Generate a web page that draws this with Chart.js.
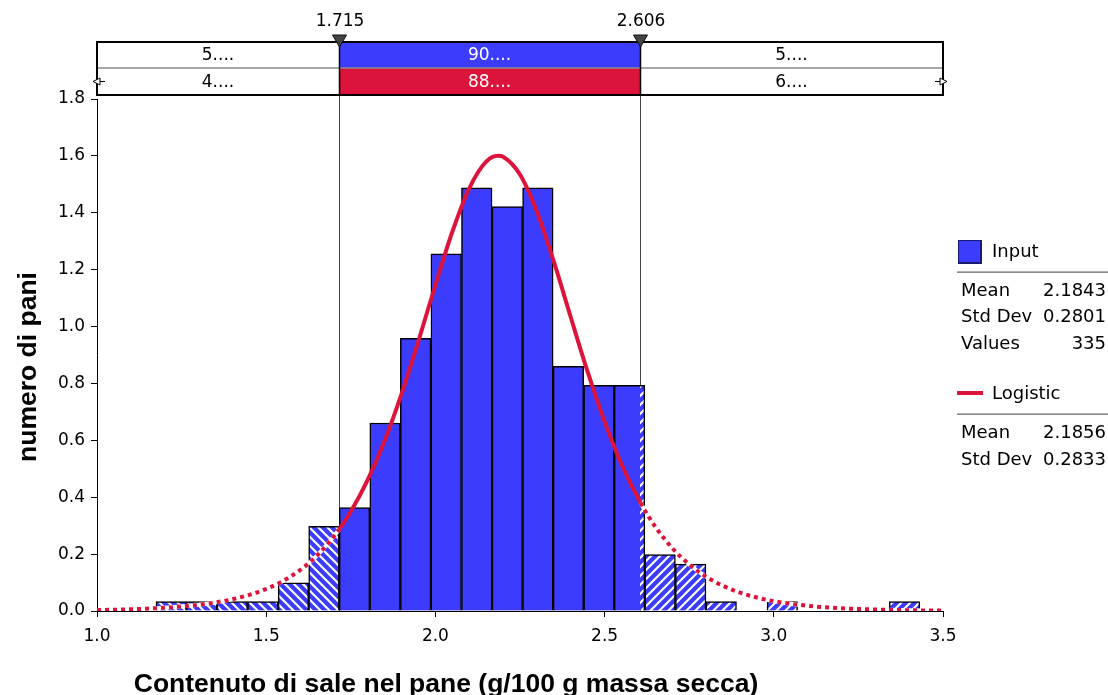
<!DOCTYPE html>
<html>
<head>
<meta charset="utf-8">
<script src="https://cdn.jsdelivr.net/npm/chart.js@4.4.1/dist/chart.umd.min.js"></script>
<style>
html,body{margin:0;padding:0;background:#fff;}
#wrap{position:relative;width:1108px;height:695px;overflow:hidden;}
#c{position:absolute;left:0;top:0;}
.t{position:absolute;font-family:'DejaVu Sans',Verdana,sans-serif;font-size:18px;line-height:22px;color:#000;white-space:nowrap;}
.sep{position:absolute;left:957px;width:151px;height:1px;background:#8a8a8a;border-top:1px solid #b0b0b0;}
</style>
</head>
<body>
<div id="wrap">
<canvas id="c" width="1108" height="695"></canvas>
<div style="position:absolute;left:958px;top:240px;width:21px;height:21px;background:#3C3CFF;border:1px solid #1a1a70;border-right-width:2px;border-bottom-width:2px;"></div>
<div class="t" style="left:992px;top:240px;">Input</div>
<div class="sep" style="top:271px;"></div>
<div class="t" style="left:961px;top:279px;">Mean</div>
<div class="t" style="right:2px;top:279px;">2.1843</div>
<div class="t" style="left:961px;top:305px;">Std Dev</div>
<div class="t" style="right:2px;top:305px;">0.2801</div>
<div class="t" style="left:961px;top:332px;">Values</div>
<div class="t" style="right:2px;top:332px;">335</div>
<div style="position:absolute;left:957px;top:391px;width:26px;height:4px;background:#DC143C;"></div>
<div class="t" style="left:992px;top:382px;">Logistic</div>
<div class="sep" style="top:413px;"></div>
<div class="t" style="left:961px;top:421px;">Mean</div>
<div class="t" style="right:2px;top:421px;">2.1856</div>
<div class="t" style="left:961px;top:448px;">Std Dev</div>
<div class="t" style="right:2px;top:448px;">0.2833</div>
</div>
<script>
// ---- data ----
const binCenters = [1.2192,1.3095,1.3998,1.4901,1.5804,1.6707,1.7610,1.8513,1.9416,2.0319,2.1222,2.2125,2.3028,2.3931,2.4834,2.5737,2.6640,2.7543,2.8446,2.9349,3.0252,3.1155,3.2058,3.2961,3.3864];
const binHeights = [0.033,0.033,0.033,0.033,0.099,0.298,0.364,0.661,0.959,1.256,1.488,1.422,1.488,0.860,0.793,0.793,0.198,0.165,0.033,0,0.033,0,0,0,0.033];
const curveX = [1.0,1.1,1.2,1.3,1.35,1.4,1.45,1.5,1.55,1.6,1.65,1.715,1.75,1.8,1.85,1.9,1.95,2.0,2.05,2.1,2.15,2.1856,2.2,2.25,2.3,2.35,2.4,2.45,2.5,2.55,2.606,2.65,2.7,2.75,2.8,2.85,2.9,2.95,3.0,3.1,3.2,3.3,3.4,3.5];
const curveY = [0.0032,0.0061,0.0116,0.0219,0.0301,0.0413,0.0567,0.0775,0.1057,0.1438,0.1946,0.2858,0.3495,0.4609,0.5988,0.7635,0.9498,1.1461,1.3332,1.4862,1.5800,1.6006,1.5972,1.5345,1.4038,1.2279,1.0328,0.8403,0.6656,0.5161,0.3807,0.2962,0.2210,0.1636,0.1205,0.0885,0.0647,0.0473,0.0345,0.0183,0.0096,0.0051,0.0027,0.0014];
const markerValues = [1.715, 2.606];
const inputPct = ['5....','90....','5....'];
const fitPct = ['4....','88....','6....'];
const xTitle = 'Contenuto di sale nel pane (g/100 g massa secca)';
const yTitle = 'numero di pani';

const BLUE = '#3C3CFF';
const RED = '#DC143C';
const LO = markerValues[0], HI = markerValues[1];
const TICKFONT = {family:"'DejaVu Sans', Verdana, sans-serif", size:17};

let fillCache = null;
function barFill(ctx){
  const chart = ctx.chart;
  const xs = chart.scales && chart.scales.x;
  if (!xs || !chart.chartArea) return BLUE;
  const pl = Math.round(xs.getPixelForValue(LO)), pr = Math.round(xs.getPixelForValue(HI));
  const key = chart.width+'|'+chart.height+'|'+pl+'|'+pr;
  if (fillCache && fillCache.key === key) return fillCache.pat;
  const c = document.createElement('canvas');
  c.width = chart.width; c.height = chart.height;
  const g = c.getContext('2d');
  g.fillStyle = BLUE; g.fillRect(0,0,c.width,c.height);
  g.strokeStyle = '#fff'; g.lineWidth = 2;
  g.save(); g.beginPath(); g.rect(0,0,pl,c.height); g.clip();
  for (let x0 = -c.height; x0 < pl; x0 += 9){ g.beginPath(); g.moveTo(x0,0); g.lineTo(x0+c.height,c.height); g.stroke(); }
  g.restore();
  g.save(); g.beginPath(); g.rect(pr,0,c.width-pr,c.height); g.clip();
  for (let x0 = pr; x0 < c.width + c.height; x0 += 9){ g.beginPath(); g.moveTo(x0,0); g.lineTo(x0-c.height,c.height); g.stroke(); }
  g.restore();
  const pat = chart.ctx.createPattern(c,'no-repeat');
  fillCache = {key, pat};
  return pat;
}

const outside = s => s.p0.parsed.x < LO - 1e-9 || s.p1.parsed.x > HI + 1e-9;

const bandPlugin = {
  id:'band',
  beforeDatasetsDraw(chart){
    const {ctx, chartArea:a, scales:{x}} = chart;
    ctx.save();
    ctx.strokeStyle = '#444'; ctx.lineWidth = 1;
    markerValues.forEach(v => {
      const p = Math.round(x.getPixelForValue(v)) + 0.5;
      ctx.beginPath(); ctx.moveTo(p, a.top - 4); ctx.lineTo(p, a.bottom); ctx.stroke();
    });
    ctx.restore();
  },
  afterDraw(chart){
    const {ctx, chartArea:a, scales:{x}} = chart;
    const L = a.left, R = a.right;
    const top = a.top - 57, mid = a.top - 31, bot = a.top - 4;
    const pl = Math.round(x.getPixelForValue(LO)), pr = Math.round(x.getPixelForValue(HI));
    ctx.save();
    ctx.fillStyle = BLUE; ctx.fillRect(pl, top, pr-pl, mid-top);
    ctx.fillStyle = RED; ctx.fillRect(pl, mid, pr-pl, bot-mid);
    ctx.strokeStyle = '#8a8a8a'; ctx.lineWidth = 1.5;
    ctx.beginPath(); ctx.moveTo(L, mid); ctx.lineTo(R, mid); ctx.stroke();
    ctx.strokeStyle = '#000'; ctx.lineWidth = 2;
    ctx.strokeRect(L, top, R-L, bot-top);
    ctx.lineWidth = 1.5;
    [pl,pr].forEach(p => { ctx.beginPath(); ctx.moveTo(p+0.5, top); ctx.lineTo(p+0.5, bot); ctx.stroke(); });
    // texts
    ctx.font = "17px 'DejaVu Sans', Verdana, sans-serif";
    ctx.textAlign = 'center'; ctx.textBaseline = 'middle';
    const cx = [(L+pl)/2, (pl+pr)/2, (pr+R)/2];
    inputPct.forEach((t,i) => { ctx.fillStyle = i===1 ? '#fff' : '#000'; ctx.fillText(t, cx[i], (top+mid)/2 + 1); });
    fitPct.forEach((t,i) => { ctx.fillStyle = i===1 ? '#fff' : '#000'; ctx.fillText(t, cx[i], (mid+bot)/2 + 1); });
    // markers
    [pl,pr].forEach((p,i) => {
      ctx.fillStyle = '#444'; ctx.strokeStyle = '#111'; ctx.lineWidth = 1;
      ctx.beginPath(); ctx.moveTo(p-6.5, top-7); ctx.lineTo(p+7.5, top-7); ctx.lineTo(p+0.5, top+5); ctx.closePath(); ctx.fill(); ctx.stroke();
      ctx.fillStyle = '#000';
      ctx.fillText(markerValues[i].toFixed(3), p+1, top-20);
    });
    // end arrows on second row
    const ay = (mid+bot)/2;
    ctx.fillStyle = '#fff'; ctx.strokeStyle = '#000'; ctx.lineWidth = 1;
    ctx.beginPath(); ctx.moveTo(L+8, ay); ctx.lineTo(L+3, ay); ctx.stroke();
    ctx.beginPath(); ctx.moveTo(L-4, ay); ctx.lineTo(L+3, ay-3.5); ctx.lineTo(L+3, ay+3.5); ctx.closePath(); ctx.fill(); ctx.stroke();
    ctx.beginPath(); ctx.moveTo(R-8, ay); ctx.lineTo(R-3, ay); ctx.stroke();
    ctx.beginPath(); ctx.moveTo(R+4, ay); ctx.lineTo(R-3, ay-3.5); ctx.lineTo(R-3, ay+3.5); ctx.closePath(); ctx.fill(); ctx.stroke();
    // axis titles
    ctx.fillStyle = '#000';
    ctx.font = "bold 26.5px 'Liberation Sans', Arial, sans-serif";
    ctx.textAlign = 'center'; ctx.textBaseline = 'alphabetic';
    ctx.fillText(xTitle, 446, 692);
    ctx.save();
    ctx.translate(36, 367); ctx.rotate(-Math.PI/2);
    ctx.fillText(yTitle, 0, 0);
    ctx.restore();
    ctx.restore();
  }
};

new Chart(document.getElementById('c'), {
  type:'bar',
  data:{
    datasets:[
      {
        type:'line', order:1,
        data: curveX.map((v,i)=>({x:v, y:curveY[i]})),
        borderColor: RED, borderWidth:4, pointRadius:0, fill:false,
        cubicInterpolationMode:'monotone', borderCapStyle:'butt',
        segment:{ borderDash: s => outside(s) ? [4,4] : undefined }
      },
      {
        type:'line', order:2,
        data: curveX.map((v,i)=>({x:v, y:curveY[i]})),
        borderColor:'#fff', borderWidth:4, pointRadius:0, fill:false,
        cubicInterpolationMode:'monotone',
        segment:{ borderColor: s => outside(s) ? '#ffffff' : 'rgba(0,0,0,0)' }
      },
      {
        type:'bar', order:3,
        data: binCenters.map((v,i)=>({x:v, y:binHeights[i]})),
        backgroundColor: barFill,
        borderColor:'#000', borderWidth:1.5,
        barPercentage:1, categoryPercentage:1, grouped:false
      }
    ]
  },
  options:{
    responsive:false, animation:false,
    layout:{padding:{top:99, right:165, left:0, bottom:0}},
    plugins:{legend:{display:false}, tooltip:{enabled:false}},
    scales:{
      x:{
        type:'linear', min:1.0, max:3.5, offset:false,
        ticks:{stepSize:0.5, callback:v=>Number(v).toFixed(1), font:TICKFONT, color:'#000', padding:9, maxRotation:0, autoSkip:false},
        grid:{display:true, offset:false, drawOnChartArea:false, drawTicks:true, tickLength:6, color:'#000'},
        border:{display:true, color:'#000', width:1},
        afterFit:s=>{ s.height = 84; }
      },
      y:{
        min:0, max:1.8,
        ticks:{stepSize:0.2, callback:v=>Number(v).toFixed(1), font:TICKFONT, color:'#000', padding:6},
        grid:{display:true, offset:false, drawOnChartArea:false, drawTicks:true, tickLength:6, color:'#000'},
        border:{display:true, color:'#000', width:1},
        afterFit:s=>{ s.width = 97; }
      }
    }
  },
  plugins:[bandPlugin]
});
</script>
</body>
</html>
